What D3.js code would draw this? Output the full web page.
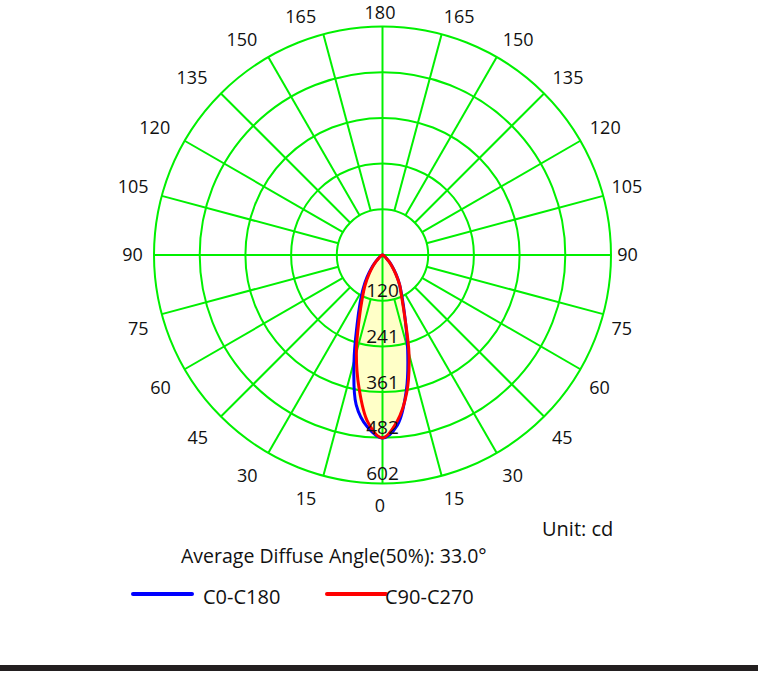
<!DOCTYPE html>
<html lang="en">

<head>
    <meta charset="UTF-8">
    <title>Polar intensity</title>
    <style>
        body {
            margin: 0;
            background: #fff;
        }

        svg text {
            font-family: 'Open Sans', 'Noto Sans', sans-serif;
            fill: #111;
        }
    </style>
</head>

<body>
    <div id='polar'></div>
</body>

</html>
<script src="https://cdnjs.cloudflare.com/ajax/libs/d3/7.8.5/d3.min.js"></script>
<script>
    // angles from nadir, degrees
    const angles = [0, 5, 10, 15, 20, 25, 30, 35, 40, 45, 50, 55, 60, 65, 70, 75, 80, 85, 90];
    // intensities, cd
    const c0 = [482, 450, 362, 256, 172, 122, 90, 63, 41, 25, 14, 8, 4, 2, 1, 0, 0, 0, 0];
    const c180 = [482, 455, 400, 290, 196, 140, 102, 71, 46, 28, 16, 9, 5, 2, 1, 0, 0, 0, 0];
    const c90 = [482, 440, 368, 270, 170, 118, 90, 60, 38, 23, 13, 7, 4, 2, 1, 0, 0, 0, 0];
    const c270 = [482, 442, 356, 266, 180, 126, 92, 62, 40, 24, 13, 7, 4, 2, 1, 0, 0, 0, 0];

    const ringValues = [120.4, 240.8, 361.2, 481.6, 602];
    const ringLabels = ['120', '241', '361', '482', '602'];
    const angleTicks = [0, 15, 30, 45, 60, 75, 90, 105, 120, 135, 150, 165, 180];

    const series = [
        { name: 'C0-C180', right: c0, left: c180, color: '#0000ff' },
        { name: 'C90-C270', right: c90, left: c270, color: '#ff0000' }
    ];

    const width = 758, height = 673;
    const cx = 382.5, cy = 255, R = 228.5;
    const green = '#00f000';

    const svg = d3.select('#polar').append('svg')
        .attr('width', width)
        .attr('height', height);

    const g = svg.append('g')
        .attr('transform', 'translate(' + cx + ',' + cy + ')');

    const rScale = d3.scaleLinear().domain([0, 602]).range([0, R]);
    const rad = d => d * Math.PI / 180;

    // build closed outline: right half (C0 / C90) then left half
    function outline(s) {
        var pts = [];
        for (var i = angles.length - 1; i >= 0; i--) {
            pts.push({ a: Math.PI - rad(angles[i]), v: s.right[i] });
        }
        for (var j = 1; j < angles.length; j++) {
            pts.push({ a: Math.PI + rad(angles[j]), v: s.left[j] });
        }
        // drop runs of zeros at the ends so the tip stays clean
        var first = pts.findIndex(p => p.v > 0) - 1;
        var last = pts.length - 1 - pts.slice().reverse().findIndex(p => p.v > 0) + 1;
        return pts.slice(Math.max(first, 0), last + 1);
    }

    const line = d3.lineRadial()
        .angle(d => d.a)
        .radius(d => rScale(d.v))
        .curve(d3.curveCatmullRom.alpha(0.5));

    // fills
    g.selectAll('.fill')
        .data(series)
        .enter().append('path')
        .attr('class', 'fill')
        .attr('d', d => line(outline(d)) + 'Z')
        .attr('fill', '#ffffc8')
        .attr('stroke', 'none');

    // rings
    g.selectAll('.ring')
        .data(ringValues)
        .enter().append('circle')
        .attr('class', 'ring')
        .attr('r', d => rScale(d))
        .attr('fill', 'none')
        .attr('stroke', green)
        .attr('stroke-width', 2);

    // spokes every 15 deg, main axes through the centre
    const spokes = d3.range(0, 360, 15);
    g.selectAll('.spoke')
        .data(spokes)
        .enter().append('line')
        .attr('class', 'spoke')
        .attr('x1', d => (d % 90 === 0 ? 0 : rScale(ringValues[0])) * Math.sin(rad(d)))
        .attr('y1', d => (d % 90 === 0 ? 0 : rScale(ringValues[0])) * Math.cos(rad(d)))
        .attr('x2', d => R * Math.sin(rad(d)))
        .attr('y2', d => R * Math.cos(rad(d)))
        .attr('stroke', green)
        .attr('stroke-width', 2);

    // curves
    g.selectAll('.curve')
        .data(series)
        .enter().append('path')
        .attr('class', 'curve')
        .attr('d', d => line(outline(d)) + 'Z')
        .attr('fill', 'none')
        .attr('stroke', d => d.color)
        .attr('stroke-width', 3)
        .attr('stroke-linejoin', 'round');

    // ring labels
    g.selectAll('.ringLabel')
        .data(ringValues)
        .enter().append('text')
        .attr('class', 'ringLabel')
        .attr('x', 0)
        .attr('y', d => rScale(d) - 3.5)
        .attr('text-anchor', 'middle')
        .attr('font-size', 19)
        .text((d, i) => ringLabels[i]);

    // angle labels on both sides
    const tickData = [];
    angleTicks.forEach(function (t) {
        if (t === 0 || t === 180) tickData.push({ t: t, s: 0 });
        else { tickData.push({ t: t, s: -1 }); tickData.push({ t: t, s: 1 }); }
    });
    const lr = R + 19;
    g.selectAll('.angleLabel')
        .data(tickData)
        .enter().append('text')
        .attr('class', 'angleLabel')
        .attr('text-anchor', 'middle')
        .attr('dy', '0.36em')
        .attr('font-size', 18)
        .text(d => d.t)
        .each(function (d) {
            var a = rad(d.t), w = this.getComputedTextLength();
            var c = Math.cos(a), sn = Math.sin(a);
            var k = c < 0 ? Math.sqrt(-c) : c;
            var x = d.s * (lr * sn + (w / 2) * k) - 2.5;
            var y = lr * c + (c > 1e-6 ? 10 * sn : (c < -1e-6 ? -5 * sn : 0)) + 3 * (1 - sn);
            y = Math.max(y, 12.5 - cy);
            d3.select(this).attr('x', x).attr('y', y);
        });

    // notes
    svg.append('text')
        .attr('x', 542)
        .attr('y', 536)
        .attr('font-size', 20)
        .text('Unit: cd');

    svg.append('text')
        .attr('x', 181)
        .attr('y', 563)
        .attr('font-size', 19.5)
        .text('Average Diffuse Angle(50%): 33.0°');

    // legend
    const legendX = [133, 327];
    const legend = svg.selectAll('.legend')
        .data(series)
        .enter().append('g')
        .attr('class', 'legend')
        .attr('transform', (d, i) => 'translate(' + legendX[i] + ',594)');

    legend.append('line')
        .attr('x1', 0)
        .attr('x2', 59)
        .attr('stroke', d => d.color)
        .attr('stroke-width', 4)
        .attr('stroke-linecap', 'round');

    legend.append('text')
        .attr('x', (d, i) => i === 0 ? 70 : 58)
        .attr('y', 9.5)
        .attr('font-size', 20)
        .text(d => d.name);

    // bottom rule
    svg.append('rect')
        .attr('x', 0)
        .attr('y', 665)
        .attr('width', width)
        .attr('height', 6)
        .attr('fill', '#231f20');
</script>
